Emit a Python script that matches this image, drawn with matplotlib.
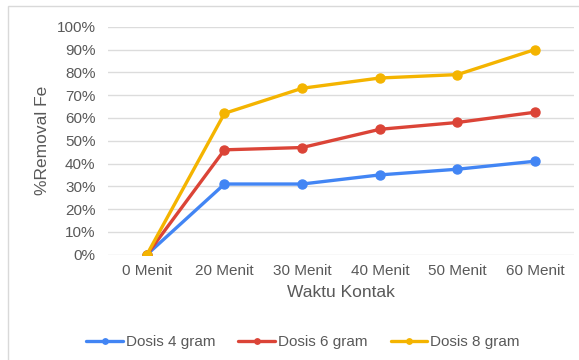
import matplotlib
matplotlib.use("Agg")
import matplotlib.pyplot as plt
from matplotlib.patches import Rectangle
from matplotlib.ticker import FuncFormatter

plt.rcParams['font.family'] = ['Liberation Sans', 'DejaVu Sans']

categories = ["0 Menit", "20 Menit", "30 Menit", "40 Menit", "50 Menit", "60 Menit"]
dosis_4 = [0, 31, 31, 35, 37.5, 41]
dosis_6 = [0, 46, 47, 55, 58, 62.5]
dosis_8 = [0, 62, 73, 77.5, 79, 90]
series_names = ["Dosis 4 gram", "Dosis 6 gram", "Dosis 8 gram"]
colors = ["#4285F4", "#DB4437", "#F4B400"]
text_color = "#595959"

fig = plt.figure(figsize=(5.79, 3.6), dpi=100)
fig.patch.set_facecolor("white")
# light frame around the chart
fig.add_artist(Rectangle((8 / 579, -0.1), 1.2, 1 - 6 / 360 + 0.1, transform=fig.transFigure,
                         fill=False, edgecolor="#d9d9d9", linewidth=1.0))

ax = fig.add_axes([108 / 579, 1 - 254.7 / 360, (574 - 108) / 579, (254.7 - 26.7) / 360])
x = list(range(len(categories)))
for vals, name, c in zip([dosis_4, dosis_6, dosis_8], series_names, colors):
    ax.plot(x, vals, color=c, linewidth=2.4, marker="o", markersize=6.5, label=name,
            solid_capstyle="round", zorder=3)

ax.set_xlim(-0.5, len(categories) - 0.5)
ax.set_ylim(0, 100)
ax.set_yticks(range(0, 101, 10))
ax.yaxis.set_major_formatter(FuncFormatter(lambda v, p: f"{int(v)}%"))
ax.set_xticks(x)
ax.set_xticklabels(categories)
ax.grid(axis="y", color="#dcdcdc", linewidth=1.0)
ax.set_axisbelow(True)
for s in ax.spines.values():
    s.set_visible(False)
ax.tick_params(axis="both", length=0, labelsize=11, colors=text_color)
ax.tick_params(axis="y", pad=9)
ax.tick_params(axis="x", pad=7)

ax.set_xlabel("Waktu Kontak", fontsize=12.5, color=text_color, labelpad=5)
ax.set_ylabel("%Removal Fe", fontsize=12.5, color=text_color, labelpad=5)

leg = fig.legend(loc="center", bbox_to_anchor=(303 / 579, 1 - 342 / 360), ncol=3,
                 frameon=False, fontsize=11, handlelength=2.4, columnspacing=1.5,
                 handletextpad=0.2, markerscale=0.6)
for t in leg.get_texts():
    t.set_color(text_color)

fig.savefig("out.png", dpi=100, facecolor="white")
